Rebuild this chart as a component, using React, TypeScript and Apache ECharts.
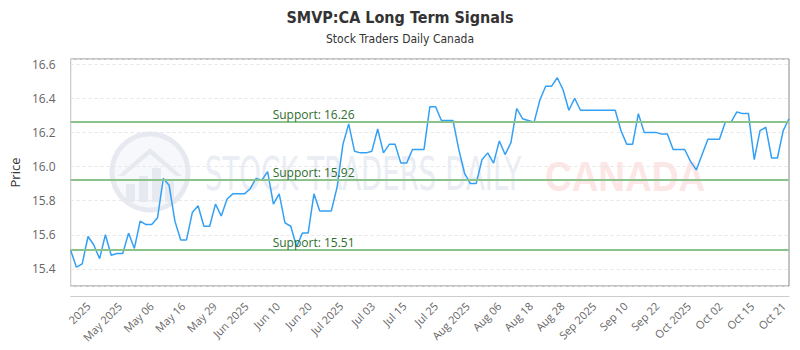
import React, { useEffect, useRef } from 'react';
import * as echarts from 'echarts';

const prices: number[] = [
  15.51, 15.41, 15.43, 15.59, 15.54, 15.46, 15.60, 15.48, 15.49, 15.49,
  15.61, 15.52, 15.68, 15.66, 15.66, 15.70, 15.93, 15.89, 15.68, 15.57,
  15.57, 15.73, 15.77, 15.65, 15.65, 15.78, 15.71, 15.81, 15.84, 15.84,
  15.84, 15.87, 15.93, 15.92, 15.97, 15.78, 15.84, 15.67, 15.65, 15.53,
  15.61, 15.61, 15.84, 15.74, 15.74, 15.74, 15.88, 16.13, 16.25, 16.09,
  16.08, 16.08, 16.09, 16.22, 16.08, 16.13, 16.13, 16.02, 16.02, 16.10,
  16.10, 16.10, 16.35, 16.35, 16.27, 16.27, 16.27, 16.10, 15.96, 15.90,
  15.90, 16.04, 16.08, 16.02, 16.15, 16.07, 16.14, 16.34, 16.28, 16.27,
  16.26, 16.39, 16.47, 16.47, 16.52, 16.45, 16.33, 16.40, 16.33, 16.33,
  16.33, 16.33, 16.33, 16.33, 16.33, 16.21, 16.13, 16.13, 16.31, 16.20,
  16.20, 16.20, 16.19, 16.19, 16.10, 16.10, 16.10, 16.03, 15.98, 16.07,
  16.16, 16.16, 16.16, 16.26, 16.26, 16.32, 16.31, 16.31, 16.04, 16.21,
  16.23, 16.05, 16.05, 16.21, 16.28,
];

const xTickLabels: string[] = [
  '2025', 'May 2025', 'May 06', 'May 16', 'May 29', 'Jun 2025', 'Jun 10', 'Jun 20',
  'Jul 2025', 'Jul 03', 'Jul 15', 'Jul 25', 'Aug 2025', 'Aug 06', 'Aug 18', 'Aug 28',
  'Sep 2025', 'Sep 10', 'Sep 22', 'Oct 2025', 'Oct 02', 'Oct 15', 'Oct 21',
];

const supportLevels: number[] = [16.26, 15.92, 15.51];

const yMin = 15.3;
const yMax = 16.63;

// label axis: fine unit ticks, one label every 9 units starting at unit 5
const labelAxisMax = 204.55;
const labelStart = 5;
const labelEvery = 9;

export default function App() {
  const ref = useRef<HTMLDivElement>(null);

  useEffect(() => {
    if (!ref.current) return;
    const chart = echarts.init(ref.current, undefined, { renderer: 'svg' });
    const categories = prices.map((_, i) => String(i));
    const titleFont = "'Liberation Sans Narrow', 'DejaVu Sans Condensed', 'Open Sans', sans-serif";

    const option: any = {
      animation: false,
      backgroundColor: '#ffffff',
      title: {
        text: 'SMVP:CA Long Term Signals',
        subtext: 'Stock Traders Daily Canada',
        left: 'center',
        top: 4,
        itemGap: 8,
        textStyle: { fontSize: 16, fontWeight: 'bold', color: '#333333', fontFamily: titleFont },
        subtextStyle: { fontSize: 12, color: '#333333', fontFamily: titleFont },
      },
      grid: {
        left: 70,
        right: 11,
        top: 59,
        bottom: 64,
        show: true,
        borderColor: '#888888',
        borderWidth: 1,
        backgroundColor: 'transparent',
      },
      graphic: [
        {
          type: 'group',
          z: 0,
          silent: true,
          children: [
            {
              type: 'circle',
              shape: { cx: 150, cy: 172, r: 38 },
              style: { fill: '#f7f8fb', stroke: '#e6e9f0', lineWidth: 5 },
            },
            {
              type: 'polygon',
              shape: { points: [[118, 176], [150, 148], [182, 176], [176, 176], [150, 154], [124, 176]] },
              style: { fill: '#e6e9f0' },
            },
            { type: 'rect', shape: { x: 126, y: 184, width: 9, height: 18 }, style: { fill: '#e6e9f0' } },
            { type: 'rect', shape: { x: 139, y: 176, width: 9, height: 26 }, style: { fill: '#e6e9f0' } },
            { type: 'rect', shape: { x: 152, y: 168, width: 9, height: 34 }, style: { fill: '#e6e9f0' } },
            { type: 'rect', shape: { x: 165, y: 180, width: 9, height: 22 }, style: { fill: '#e6e9f0' } },
            {
              type: 'text',
              x: 205,
              y: 174,
              scaleX: 0.6,
              style: {
                text: 'STOCK TRADERS DAILY',
                fill: '#eaedf4',
                fontSize: 46,
                fontFamily: "'DejaVu Sans', sans-serif",
                verticalAlign: 'middle',
                align: 'left',
              },
            },
            {
              type: 'text',
              x: 545,
              y: 176,
              scaleX: 0.88,
              style: {
                text: 'CANADA',
                fill: '#fde6e6',
                fontSize: 42,
                fontWeight: 'bold',
                fontFamily: "'Liberation Sans', sans-serif",
                verticalAlign: 'middle',
                align: 'left',
              },
            },
          ],
        },
      ],
      xAxis: [
        {
          type: 'category',
          data: categories,
          boundaryGap: false,
          show: false,
        },
        {
          type: 'value',
          position: 'bottom',
          offset: 10,
          min: 0,
          max: labelAxisMax,
          interval: 1,
          axisLine: { show: true, lineStyle: { color: '#cccccc', width: 1 } },
          axisTick: { show: false },
          splitLine: { show: false },
          axisLabel: {
            rotate: 45,
            margin: 8,
            fontSize: 11,
            color: '#666666',
            fontFamily: "'Open Sans', sans-serif",
            showMinLabel: false,
            showMaxLabel: false,
            formatter: (v: number) => {
              const n = Math.round(v);
              if (Math.abs(v - n) > 1e-6) return '';
              if (n < labelStart || (n - labelStart) % labelEvery !== 0) return '';
              return xTickLabels[(n - labelStart) / labelEvery] ?? '';
            },
          },
        },
      ],
      yAxis: {
        type: 'value',
        min: yMin,
        max: yMax,
        splitNumber: 7,
        offset: 7,
        name: 'Price',
        nameLocation: 'middle',
        nameGap: 42,
        nameTextStyle: { fontSize: 13, color: '#333333', fontFamily: "'Open Sans', sans-serif" },
        axisLine: { show: true, lineStyle: { color: '#cccccc', width: 1 } },
        axisTick: { show: false },
        axisLabel: {
          fontSize: 12,
          color: '#666666',
          margin: 8,
          fontFamily: "'Open Sans', sans-serif",
          formatter: (v: number) => {
            const r = Math.round(v * 5);
            return Math.abs(v * 5 - r) < 1e-6 ? v.toFixed(1) : '';
          },
        },
        splitLine: { show: true, lineStyle: { color: '#e6e6e6', type: [3, 3], width: 1 } },
      },
      series: [
        {
          type: 'line',
          xAxisIndex: 0,
          yAxisIndex: 0,
          data: prices,
          symbol: 'none',
          z: 3,
          lineStyle: { color: '#33a0f5', width: 1.5 },
          markLine: {
            silent: true,
            symbol: 'none',
            lineStyle: { color: '#8cc28c', width: 2, type: 'solid' },
            label: {
              show: true,
              position: 'insideStartTop',
              distance: [202, 2],
              color: '#2e6e2e',
              fontSize: 12,
              fontFamily: "'Open Sans', sans-serif",
              formatter: (p: any) => 'Support: ' + Number(p.value).toFixed(2),
            },
            data: supportLevels.map((v) => ({ yAxis: v })),
          },
        },
      ],
    };

    chart.setOption(option);
    return () => {
      chart.dispose();
    };
  }, []);

  return (
    <div
      ref={ref}
      style={{ position: 'fixed', left: 0, top: 0, width: 800, height: 350 }}
    />
  );
}
